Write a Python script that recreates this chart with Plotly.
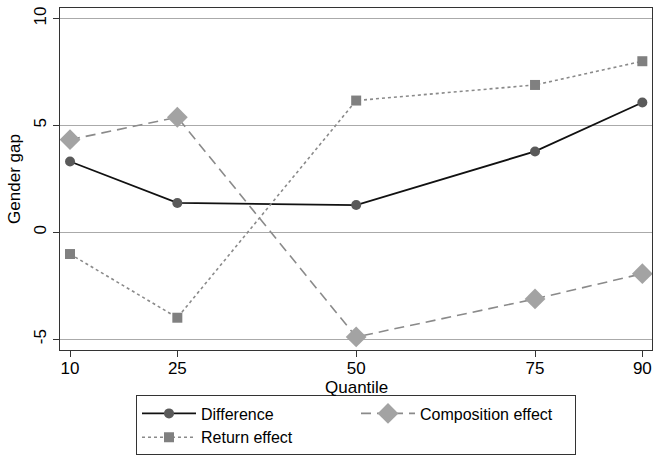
import plotly.graph_objects as go

# Quantiles of the wage distribution
quantiles = [10, 25, 50, 75, 90]

# Decomposition of the gender gap at each quantile
difference = [3.31, 1.37, 1.27, 3.78, 6.07]
composition = [4.33, 5.38, -4.90, -3.12, -1.94]
returns = [-1.02, -4.00, 6.16, 6.89, 8.00]

y_ticks = [-5, 0, 5, 10]

FONT = "Liberation Sans, Arial, sans-serif"

fig = go.Figure()

fig.add_trace(go.Scatter(
    x=quantiles, y=difference, name="Difference", mode="lines+markers",
    line=dict(color="#111111", width=1.8),
    marker=dict(symbol="circle", size=10, color="#5a5a5a"),
))
fig.add_trace(go.Scatter(
    x=quantiles, y=composition, name="Composition effect", mode="lines+markers",
    line=dict(color="#8a8a8a", width=1.6, dash="10px,6px"),
    marker=dict(symbol="diamond", size=16, color="#a3a3a3"),
))
fig.add_trace(go.Scatter(
    x=quantiles, y=returns, name="Return effect", mode="lines+markers",
    line=dict(color="#8a8a8a", width=1.6, dash="3px,3px"),
    marker=dict(symbol="square", size=10, color="#808080"),
))

fig.update_layout(
    width=656, height=461,
    margin=dict(l=60, r=4, t=8, b=111),
    paper_bgcolor="white", plot_bgcolor="white",
    font=dict(family=FONT, size=17, color="black"),
    showlegend=True,
    legend=dict(
        orientation="h", x=0.5, xanchor="center", y=-0.133, yanchor="top",
        bordercolor="#333333", borderwidth=1, entrywidth=150,
        font=dict(family=FONT, size=16), itemwidth=54,
        tracegroupgap=0,
    ),
    xaxis=dict(
        range=[8.6, 91.35], tickvals=quantiles, ticktext=[str(q) for q in quantiles],
        showgrid=False, zeroline=False,
        showline=True, linecolor="#333333", linewidth=1, mirror=True,
        ticks="outside", ticklen=6, tickcolor="#333333",
        ticklabelstandoff=-3,
        tickfont=dict(size=17),
    ),
    yaxis=dict(
        range=[-5.51, 10.49], tickvals=y_ticks, ticktext=[str(v) for v in y_ticks],
        tickangle=-90,
        showgrid=True, gridcolor="#aaaaaa", gridwidth=1,
        zeroline=True, zerolinecolor="#aaaaaa", zerolinewidth=1,
        showline=True, linecolor="#333333", linewidth=1, mirror=True,
        ticks="outside", ticklen=6, tickcolor="#333333",
        title=dict(text="Gender gap", standoff=6, font=dict(size=17)),
        tickfont=dict(size=17),
    ),
    annotations=[dict(
        text="Quantile", xref="paper", yref="paper", x=0.5, y=0,
        yshift=-37, showarrow=False, xanchor="center", yanchor="middle",
        font=dict(size=17),
    )],
)

fig.write_html("out.html")
